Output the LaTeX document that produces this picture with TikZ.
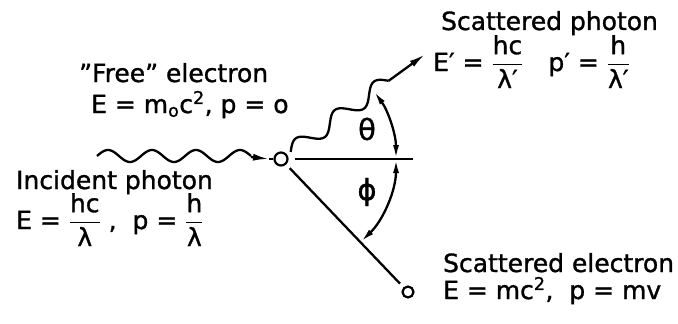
\documentclass[tikz,border=0pt]{standalone}
\usepackage{amsmath}
\usepackage{fontspec}
\setmainfont{DejaVu Sans}[FakeBold=1.2]
\usetikzlibrary{arrows.meta,calc}
\begin{document}
\begin{tikzpicture}[x=1pt,y=-1pt,line width=2.3pt,
  lbl/.style={anchor=base west,inner sep=0pt,font=\fontsize{25}{30}\selectfont},
  grk/.style={inner sep=0pt,font=\fontsize{29}{30}\selectfont},
  dot/.style={circle,draw,inner sep=0pt,line width=2.2pt},
  tip/.style={-{Latex[length=16pt,width=7pt]}},
  angarr/.style={{Latex[length=14pt,width=6pt]}-{Latex[length=14pt,width=6pt]}},
  ]
\useasboundingbox (0,0) rectangle (678,324);
% particles
\node[dot,minimum size=13pt] (o) at (281,159) {};
\node[dot,minimum size=11pt] (e) at (408,292) {};
\coordinate (hend) at (413,159);
\coordinate (inB) at (251,157);
\coordinate (intip) at (269,159);
% incident photon
\draw plot[domain=97:251,samples=120] (\x,{156-6*sin((\x-97)*8.1818)});
\draw[tip] (inB) -- (intip);
\draw (intip) -- (o);
% scattered photon
\begin{scope}[shift={(o.center)},rotate=36]
  \draw plot[domain=12:133,samples=120] (\x,{-8*sin((\x-12)*7.438)});
  \coordinate (pw) at (133,0);
  \coordinate (ptip) at (178,0);
\end{scope}
\draw[tip] (pw) -- (ptip);
% horizontal axis and scattered electron
\draw[shorten <=6pt] (o) -- (hend);
\draw[shorten <=5pt,shorten >=5pt] (o) -- (e);
% angles
\draw[angarr] ($(o.center)+(-36:115)$) arc[start angle=-36,end angle=0,radius=115];
\draw[angarr] ($(o.center)+(0:115)$) arc[start angle=0,end angle=46,radius=115];
\node[grk] (th) at (367,129) {θ};
\node[grk] (ph) at (367,192) {ϕ};
% labels
\node[lbl] (free) at (78,82) {”Free” electron};
\node[lbl] (freeq) at (90,113) {E = m$_{\text{o}}$c$^{\text{2}}$, p = o};
\node[lbl] (inc) at (15,189) {Incident photon};
\node[lbl] (incq) at (15,229) {E = $\dfrac{\text{hc}}{\text{λ}}$ ,\ \ p = $\dfrac{\text{h}}{\text{λ}}$};
\node[lbl] (sp) at (440,30) {Scattered photon};
\node[lbl] (spq) at (432,71) {E′ = $\dfrac{\text{hc}}{\text{λ′}}$\quad p′ = $\dfrac{\text{h}}{\text{λ′}}$};
\node[lbl] (se) at (442,272) {Scattered electron};
\node[lbl] (seq) at (442,299) {E = mc$^{\text{2}}$,\ \ p = mv};
\end{tikzpicture}
\end{document}
